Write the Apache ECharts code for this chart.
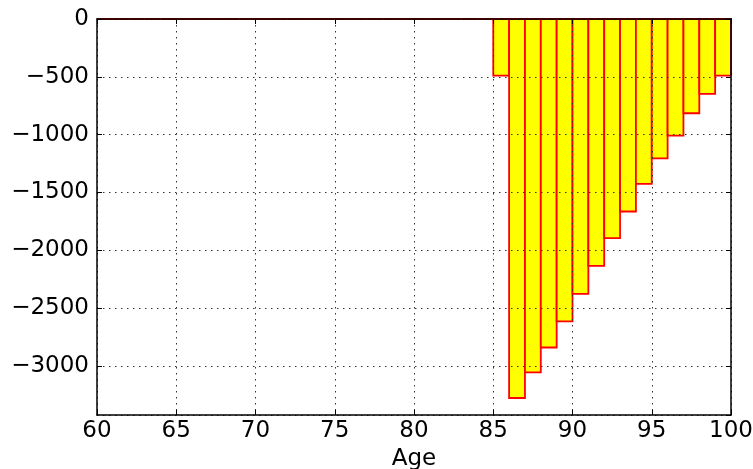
<!DOCTYPE html>
<html><head><meta charset="utf-8">
<script src="https://cdn.jsdelivr.net/npm/echarts@6/dist/echarts.min.js"></script>
<style>html,body{margin:0;padding:0;background:#fff}#c{width:753px;height:469px}</style>
</head><body><div id="c"></div>
<script>
// Ages (left edge of each 1-year bin) and values
const ages = [60,61,62,63,64,65,66,67,68,69,70,71,72,73,74,75,76,77,78,79,80,81,82,83,84,
              85,86,87,88,89,90,91,92,93,94,95,96,97,98,99];
const values = [0,0,0,0,0,0,0,0,0,0,0,0,0,0,0,0,0,0,0,0,0,0,0,0,0,
                -490,-3278,-3057,-2841,-2616,-2377,-2135,-1896,-1665,-1426,-1206,-1008,-815,-648,-490];
const xMin = 60, xMax = 100, xStep = 5;
const yMin = -3425, yMax = 0;
const xLabel = 'Age';

const data = ages.map((a, i) => [a, values[i]]);
const minus = v => String(v).replace('-', '\u2212');
const FONT = 'DejaVu Sans';
const FS = 23;

const chart = echarts.init(document.getElementById('c'), null, {renderer: 'canvas'});
const tickStyle = {show: true, inside: true, length: 5, lineStyle: {color: '#000', width: 1}};
const splitStyle = {show: true, lineStyle: {color: '#333', width: 1, type: [1.5, 4.5]}};
chart.setOption({
  animation: false,
  backgroundColor: '#fff',
  grid: {left: 97, top: 19, width: 634, height: 396, show: false,
         containLabel: false, outerBoundsMode: 'none'},
  xAxis: [
    {type: 'value', min: xMin, max: xMax, interval: xStep, position: 'bottom', z: 5,
     name: xLabel, nameLocation: 'middle', nameGap: 30,
     nameTextStyle: {fontFamily: FONT, fontSize: FS, color: '#000'},
     axisLine: {show: true, onZero: false, lineStyle: {color: '#000', width: 1.5}},
     axisTick: tickStyle,
     axisLabel: {fontFamily: FONT, fontSize: FS, color: '#000', margin: 5},
     splitLine: splitStyle},
    {type: 'value', min: xMin, max: xMax, interval: xStep, position: 'top', z: 5,
     axisLine: {show: true, onZero: false, lineStyle: {color: '#000', width: 1.5}},
     axisTick: tickStyle, axisLabel: {show: false}, splitLine: {show: false}}
  ],
  yAxis: [
    {type: 'value', min: yMin, max: yMax, splitNumber: 5, position: 'left', z: 5,
     axisLine: {show: true, onZero: false, lineStyle: {color: '#000', width: 1.5}},
     axisTick: tickStyle,
     axisLabel: {fontFamily: FONT, fontSize: FS, color: '#000', margin: 8,
                 showMinLabel: false, formatter: v => minus(v)},
     splitLine: splitStyle},
    {type: 'value', min: yMin, max: yMax, splitNumber: 5, position: 'right', z: 5,
     axisLine: {show: true, onZero: false, lineStyle: {color: '#000', width: 1.5}},
     axisTick: tickStyle, axisLabel: {show: false}, splitLine: {show: false}}
  ],
  series: [{
    type: 'custom',
    xAxisIndex: 0, yAxisIndex: 0, z: 2,
    data: data,
    renderItem: function (params, api) {
      const a = api.value(0), v = api.value(1);
      const p0 = api.coord([a, 0]);
      const p1 = api.coord([a + 1, v]);
      const x = Math.min(p0[0], p1[0]), y = Math.min(p0[1], p1[1]);
      return {
        type: 'rect',
        shape: {x: x, y: y, width: Math.abs(p1[0] - p0[0]), height: Math.abs(p1[1] - p0[1])},
        style: {fill: '#ffff00', stroke: '#ff0000', lineWidth: 1.8}
      };
    }
  }]
});
</script>
</body></html>
